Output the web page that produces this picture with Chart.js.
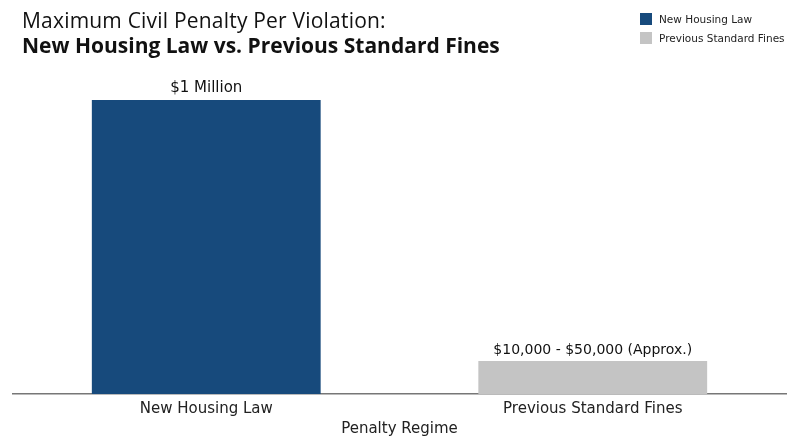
<!DOCTYPE html>
<html>
<head>
<meta charset="utf-8">
<script src="https://cdn.jsdelivr.net/npm/chart.js@4"></script>
<style>
  html, body { margin: 0; padding: 0; background: #fff; }
  #wrap { position: relative; width: 800px; height: 447px; font-family: "DejaVu Sans", sans-serif; color: #111; }
  #title { position: absolute; left: 22px; top: 8px; font-family: "Open Sans", sans-serif; font-size: 21px; line-height: 25px; }
  #title .light { letter-spacing: 0.2px; }
  #title .bold { font-weight: bold; }
  #legend { position: absolute; left: 640px; top: 9px; font-size: 10.5px; color: #222; }
  #legend .item { display: flex; align-items: center; height: 19px; }
  #legend .box { width: 12px; height: 12px; margin-right: 7px; }
  canvas { position: absolute; left: 0; top: 0; }
</style>
</head>
<body>
<div id="wrap">
  <canvas id="penaltyChart" width="800" height="447"></canvas>
  <div id="title">
    <div class="light">Maximum Civil Penalty Per Violation:</div>
    <div class="bold">New Housing Law vs. Previous Standard Fines</div>
  </div>
  <div id="legend"></div>
</div>
<script>
// Chart data
const categories = ['New Housing Law', 'Previous Standard Fines'];
const penaltyValues = [1000000, 112000];
const valueLabels = ['$1 Million', '$10,000 - $50,000 (Approx.)'];
const barColors = ['#174a7c', '#c4c4c4'];
const axisTitle = 'Penalty Regime';

const fontFamily = '"DejaVu Sans", sans-serif';

// Draw value text above each bar
const valueLabelPlugin = {
    id: 'valueLabels',
    afterDatasetsDraw(chart) {
        const ctx = chart.ctx;
        const meta = chart.getDatasetMeta(0);
        ctx.save();
        ctx.fillStyle = '#111';
        ctx.textAlign = 'center';
        ctx.textBaseline = 'bottom';
        meta.data.forEach((bar, i) => {
            ctx.font = (i === 0 ? '15px ' : '14px ') + fontFamily;
            ctx.fillText(valueLabels[i], bar.x, bar.y - 4);
        });
        ctx.restore();
    }
};

const chart = new Chart(document.getElementById('penaltyChart'), {
    type: 'bar',
    data: {
        labels: categories,
        datasets: [{
            label: 'Maximum Civil Penalty',
            data: penaltyValues,
            backgroundColor: barColors,
            borderWidth: 0,
            categoryPercentage: 0.8,
            barPercentage: 0.74
        }]
    },
    options: {
        responsive: false,
        animation: false,
        layout: { padding: { top: 100, left: 13, right: 14, bottom: 9 } },
        plugins: {
            legend: { display: false },
            title: { display: false },
            tooltip: { enabled: false }
        },
        scales: {
            x: {
                grid: { display: false, drawTicks: false },
                border: { display: true, color: '#777', width: 1.5 },
                ticks: { color: '#222', font: { family: fontFamily, size: 15 }, padding: 6 },
                title: { display: true, text: axisTitle, color: '#222', font: { family: fontFamily, size: 15 }, padding: { top: -4, bottom: 0 } }
            },
            y: {
                display: false,
                min: 0,
                max: 1000000
            }
        }
    },
    plugins: [valueLabelPlugin]
});

// Legend built from the same arrays
document.getElementById('legend').innerHTML = categories.map((c, i) => `
    <div class="item"><span class="box" style="background:${barColors[i]}"></span>${c}</div>
`).join('');
</script>
</body>
</html>
